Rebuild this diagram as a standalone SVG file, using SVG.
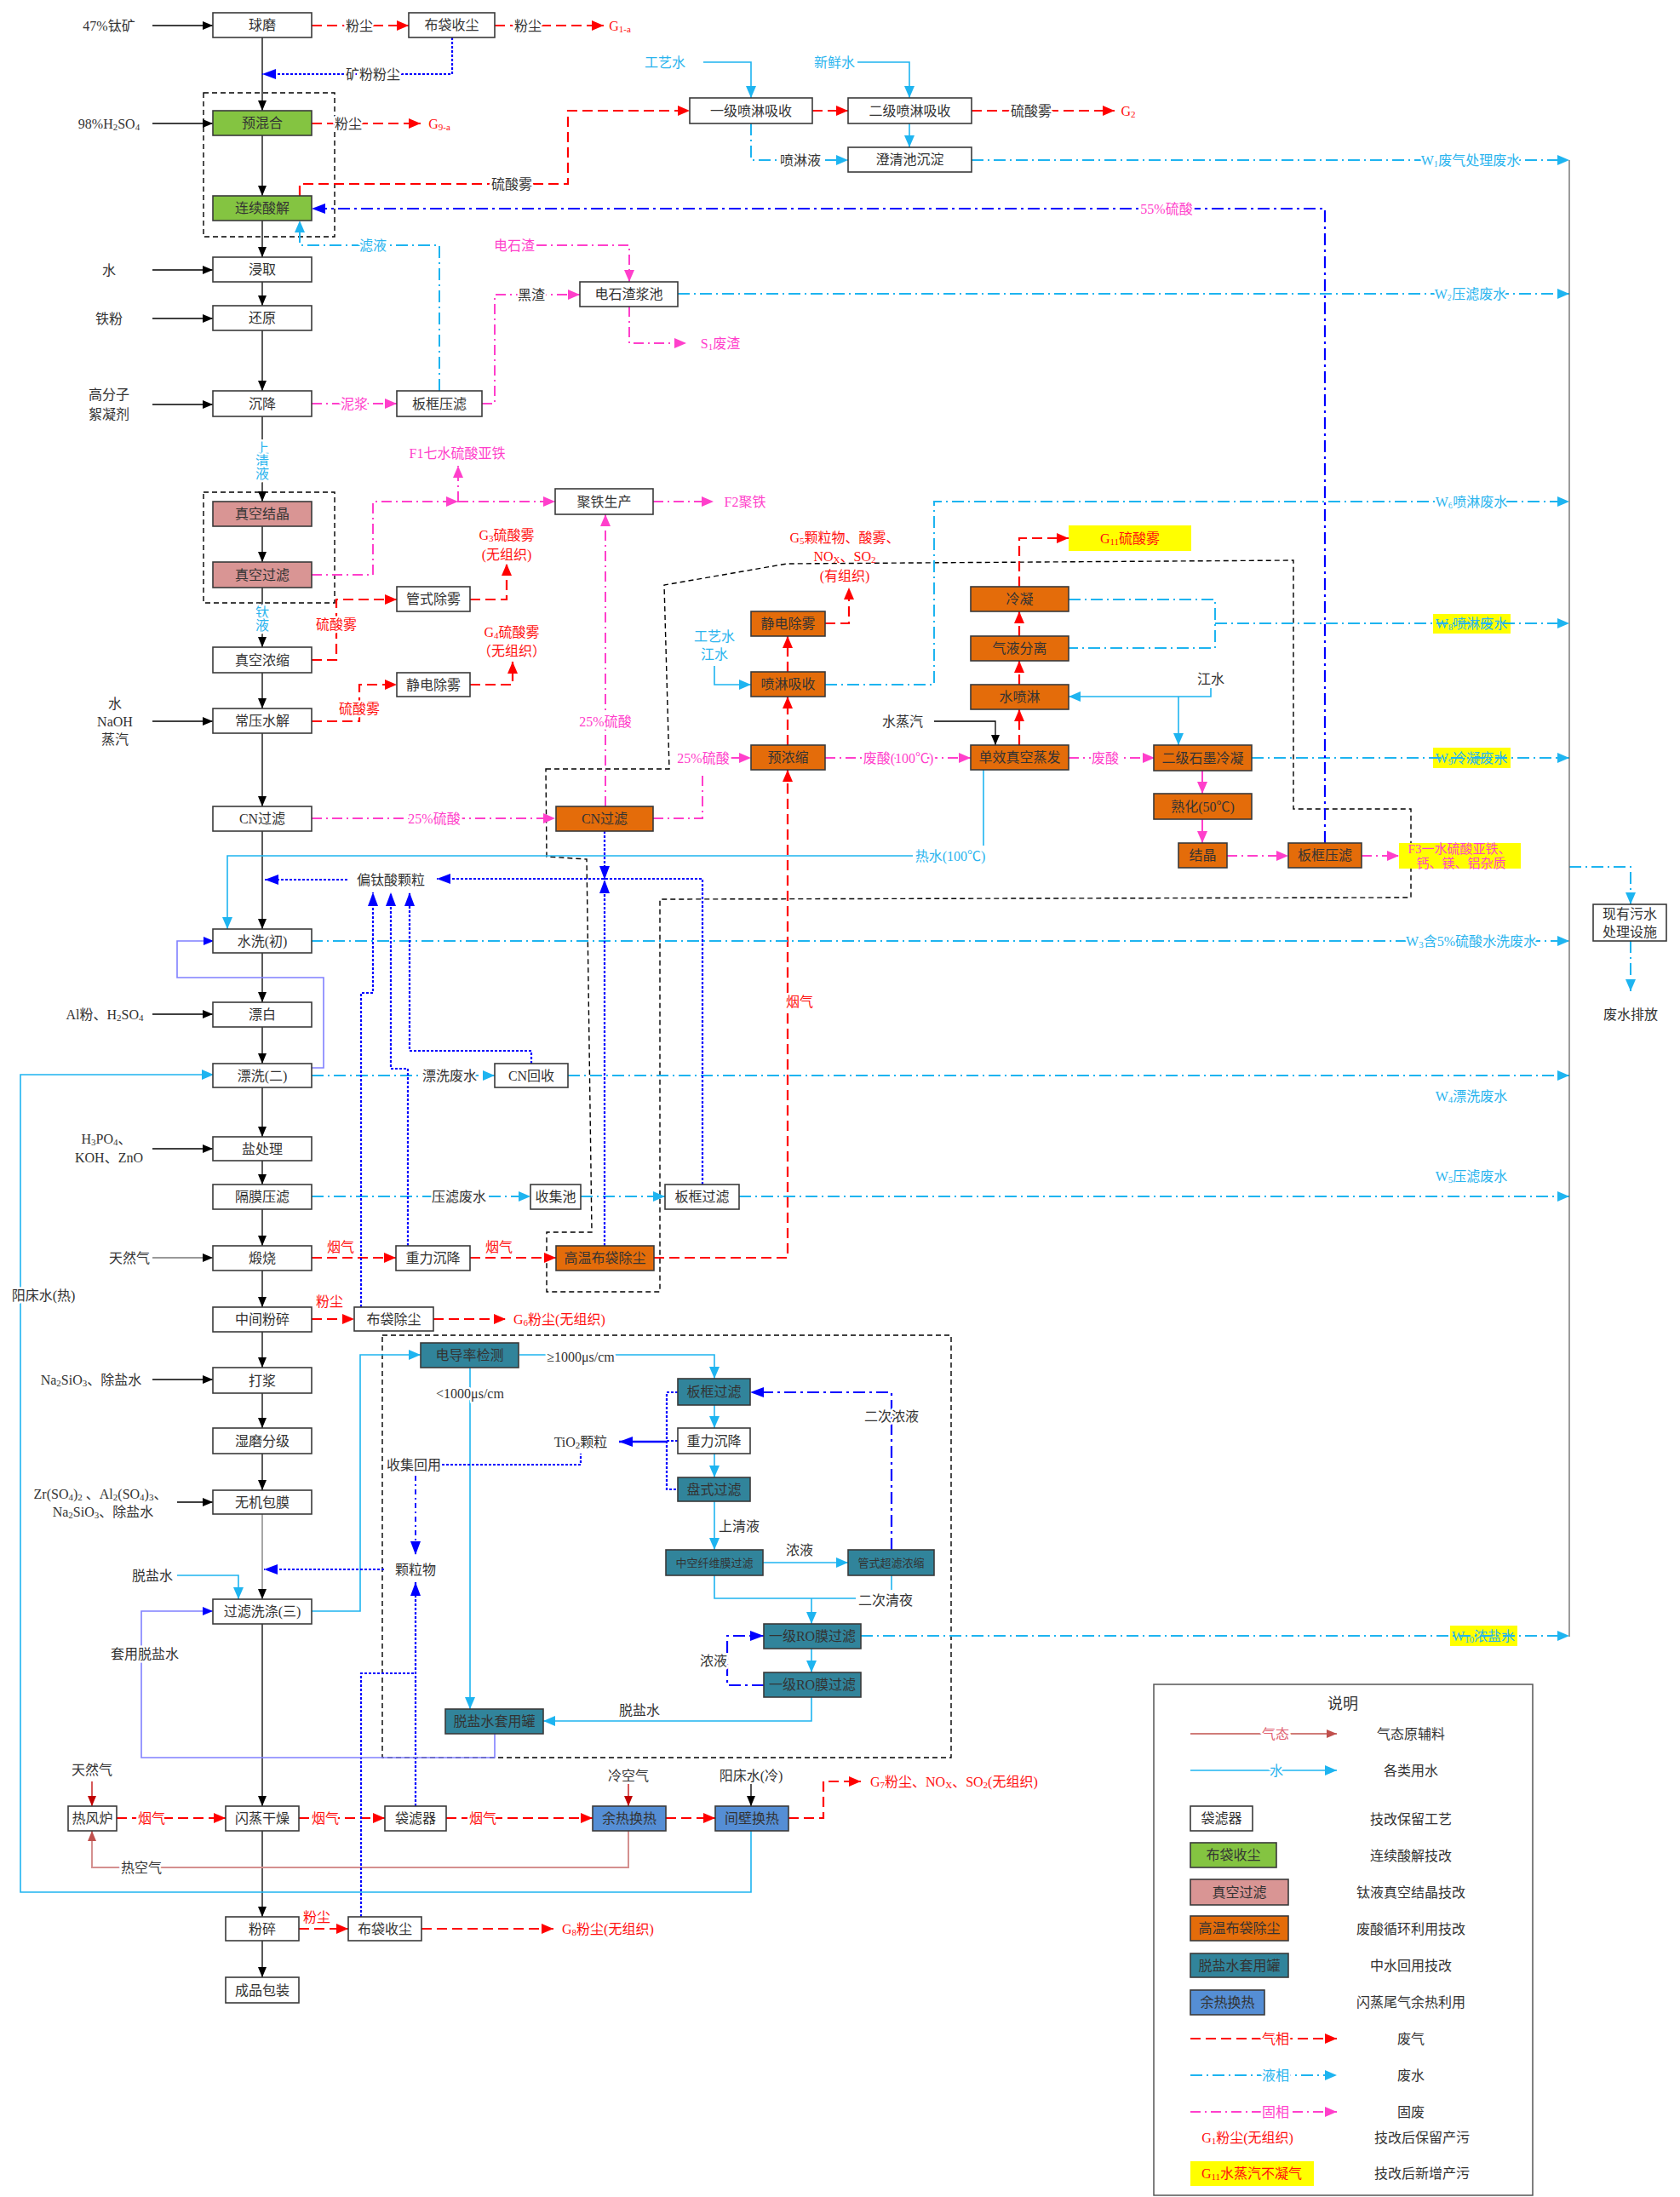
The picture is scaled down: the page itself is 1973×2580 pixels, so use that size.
<svg xmlns="http://www.w3.org/2000/svg" width="1973" height="2580" viewBox="0 0 1973 2580">
<style>
text{font-family:"Liberation Serif","Noto Sans CJK SC",serif;font-size:16px;text-anchor:middle;dominant-baseline:central;fill:#333}
.h{paint-order:stroke;stroke:#fff;stroke-width:5px;stroke-linejoin:round}
.s{font-size:11px}
.tr{fill:#FF1010}.tc{fill:#2AB4EE}.tp{fill:#FF3FCB}
.sm{font-size:13px}
.bx{stroke:#3a3a3a;stroke-width:1.6}
.w{fill:#fff}.g{fill:#84C441}.p{fill:#D99594}.o{fill:#E46C0A}.t{fill:#31849B}.b{fill:#558ED5}.y{fill:#FFFF00}
.k{fill:none;stroke:#000;stroke-width:1.3}
.kg{fill:none;stroke:#777;stroke-width:1.3}
.red{fill:none;stroke:#FF0000;stroke-width:2.2;stroke-dasharray:12 6}
.rs{fill:none;stroke:#C00000;stroke-width:1.3}
.ha{fill:none;stroke:#D4908F;stroke-width:2}
.cy{fill:none;stroke:#1EB4F0;stroke-width:2;stroke-dasharray:14 5 2 5}
.cs{fill:none;stroke:#1EB4F0;stroke-width:1.6}
.pk{fill:none;stroke:#FF3FCB;stroke-width:2;stroke-dasharray:12 5 2 5}
.ps{fill:none;stroke:#FF3FCB;stroke-width:2}
.bl{fill:none;stroke:#0000FF;stroke-width:2.2;stroke-dasharray:3 2}
.bd{fill:none;stroke:#0000FF;stroke-width:2.2;stroke-dasharray:14 5 3 5}
.bs{fill:none;stroke:#0000FF;stroke-width:2.4}
.pu{fill:none;stroke:#8080FF;stroke-width:1.6}
.dsh{fill:none;stroke:#000;stroke-width:1.4;stroke-dasharray:6 4}
</style>
<defs>
<marker id="ak" viewBox="0 0 12 10" refX="12" refY="5" markerWidth="12" markerHeight="10" orient="auto" markerUnits="userSpaceOnUse"><path d="M0,0 L12,5 L0,10z" fill="#000"/></marker>
<marker id="ar" viewBox="0 0 14 12" refX="14" refY="6" markerWidth="14" markerHeight="12" orient="auto" markerUnits="userSpaceOnUse"><path d="M0,0 L14,6 L0,12z" fill="#FF0000"/></marker>
<marker id="ard" viewBox="0 0 12 10" refX="12" refY="5" markerWidth="12" markerHeight="10" orient="auto" markerUnits="userSpaceOnUse"><path d="M0,0 L12,5 L0,10z" fill="#C00000"/></marker>
<marker id="aha" viewBox="0 0 12 10" refX="12" refY="5" markerWidth="12" markerHeight="10" orient="auto" markerUnits="userSpaceOnUse"><path d="M0,0 L12,5 L0,10z" fill="#C0504D"/></marker>
<marker id="ac" viewBox="0 0 14 12" refX="14" refY="6" markerWidth="14" markerHeight="12" orient="auto" markerUnits="userSpaceOnUse"><path d="M0,0 L14,6 L0,12z" fill="#1EB4F0"/></marker>
<marker id="ap" viewBox="0 0 14 12" refX="14" refY="6" markerWidth="14" markerHeight="12" orient="auto" markerUnits="userSpaceOnUse"><path d="M0,0 L14,6 L0,12z" fill="#FF3FCB"/></marker>
<marker id="ab" viewBox="0 0 16 12" refX="16" refY="6" markerWidth="16" markerHeight="12" orient="auto" markerUnits="userSpaceOnUse"><path d="M0,0 L16,6 L0,12z" fill="#0000FF"/></marker>
<marker id="apu" viewBox="0 0 12 10" refX="12" refY="5" markerWidth="12" markerHeight="10" orient="auto" markerUnits="userSpaceOnUse"><path d="M0,0 L12,5 L0,10z" fill="#0000FF"/></marker>
</defs>
<rect width="1973" height="2580" fill="#fff"/>

<g id="groups">
<rect class="dsh" x="239" y="109" width="154" height="169"/>
<rect class="dsh" x="239" y="578" width="154" height="130"/>
<polygon class="dsh" points="641,903 786,903 780,687 924,662 1519,658 1519,950 1657,950 1657,1054 775,1056 775,1517 642,1517 642,1447 695,1447 689,1009 642,1006"/>
<rect class="dsh" x="449" y="1568" width="668" height="496"/>
</g>

<g id="highlights">
<rect class="y" x="1255" y="617" width="144" height="30"/>
<rect class="y" x="1683" y="721" width="91" height="23"/>
<rect class="y" x="1683" y="878" width="91" height="24"/>
<rect class="y" x="1703" y="1909" width="79" height="24"/>
<rect class="y" x="1643" y="990" width="143" height="30"/>
</g>

<g id="connectors">
<path class="k" marker-end="url(#ak)" d="M308,44V130"/><path class="k" marker-end="url(#ak)" d="M308,159V230"/><path class="k" marker-end="url(#ak)" d="M308,259V302"/><path class="k" marker-end="url(#ak)" d="M308,331V359"/><path class="k" marker-end="url(#ak)" d="M308,388V459"/><path class="k" marker-end="url(#ak)" d="M308,489V589"/><path class="k" marker-end="url(#ak)" d="M308,618V660"/><path class="k" marker-end="url(#ak)" d="M308,690V760"/><path class="k" marker-end="url(#ak)" d="M308,790V832"/><path class="k" marker-end="url(#ak)" d="M308,861V947"/><path class="k" marker-end="url(#ak)" d="M308,976V1091"/><path class="k" marker-end="url(#ak)" d="M308,1119V1177"/><path class="k" marker-end="url(#ak)" d="M308,1206V1249"/><path class="k" marker-end="url(#ak)" d="M308,1277V1335"/><path class="k" marker-end="url(#ak)" d="M308,1363V1391"/><path class="k" marker-end="url(#ak)" d="M308,1420V1463"/><path class="k" marker-end="url(#ak)" d="M308,1492V1535"/><path class="k" marker-end="url(#ak)" d="M308,1564V1606"/><path class="k" marker-end="url(#ak)" d="M308,1636V1677"/><path class="k" marker-end="url(#ak)" d="M308,1707V1750"/>
<path class="kg" marker-end="url(#ak)" d="M308,1778V1878"/>
<path class="k" marker-end="url(#ak)" d="M308,1907V2121"/>
<path class="k" marker-end="url(#ak)" d="M308,2150V2251"/>
<path class="k" marker-end="url(#ak)" d="M308,2279V2322"/>
<path class="k" marker-end="url(#ak)" d="M179,30H250"/>
<path class="k" marker-end="url(#ak)" d="M179,145H250"/>
<path class="k" marker-end="url(#ak)" d="M179,317H250"/>
<path class="k" marker-end="url(#ak)" d="M179,374H250"/>
<path class="k" marker-end="url(#ak)" d="M179,475H250"/>
<path class="k" marker-end="url(#ak)" d="M179,847H250"/>
<path class="k" marker-end="url(#ak)" d="M179,1191H250"/>
<path class="k" marker-end="url(#ak)" d="M179,1349H250"/>
<path class="kg" marker-end="url(#ak)" d="M179,1477H250"/>
<path class="k" marker-end="url(#ak)" d="M179,1620H250"/>
<path class="k" marker-end="url(#ak)" d="M208,1764H250"/>
<path class="k" marker-end="url(#ak)" d="M1097,847H1169V875"/>
<path class="k" marker-end="url(#ak)" d="M882,2095V2121"/>
<path class="red" marker-end="url(#ar)" d="M366,30H480"/>
<path class="red" marker-end="url(#ar)" d="M581,30H709"/>
<path class="red" marker-end="url(#ar)" d="M366,145H494"/>
<path class="red" marker-end="url(#ar)" d="M352,230V216H667V130H810"/>
<path class="red" marker-end="url(#ar)" d="M954,130H996"/>
<path class="red" marker-end="url(#ar)" d="M1141,130H1309"/>
<path class="red" marker-end="url(#ar)" d="M366,775H395V704H466"/>
<path class="red" marker-end="url(#ar)" d="M552,704H595V662"/>
<path class="red" marker-end="url(#ar)" d="M366,847H422V804H466"/>
<path class="red" marker-end="url(#ar)" d="M552,804H602V777"/>
<path class="red" marker-end="url(#ar)" d="M925,875V818"/>
<path class="red" marker-end="url(#ar)" d="M925,789V747"/>
<path class="red" marker-end="url(#ar)" d="M969,732H997V690"/>
<path class="red" marker-end="url(#ar)" d="M1197,875V833"/>
<path class="red" marker-end="url(#ar)" d="M1197,804V776"/>
<path class="red" marker-end="url(#ar)" d="M1197,747V718"/>
<path class="red" marker-end="url(#ar)" d="M1197,689V632H1255"/>
<path class="red" marker-end="url(#ar)" d="M768,1477H925V904"/>
<path class="red" marker-end="url(#ar)" d="M366,1477H465"/>
<path class="red" marker-end="url(#ar)" d="M552,1477H653"/>
<path class="red" marker-end="url(#ar)" d="M366,1549H416"/>
<path class="red" marker-end="url(#ar)" d="M509,1549H594"/>
<path class="red" marker-end="url(#ar)" d="M137,2135H265"/>
<path class="red" marker-end="url(#ar)" d="M351,2135H452"/>
<path class="red" marker-end="url(#ar)" d="M524,2135H696"/>
<path class="red" marker-end="url(#ar)" d="M782,2135H840"/>
<path class="red" marker-end="url(#ar)" d="M926,2135H967V2092H1011"/>
<path class="red" marker-end="url(#ar)" d="M351,2265H409"/>
<path class="red" marker-end="url(#ar)" d="M495,2265H650"/>
<path class="rs" marker-end="url(#ard)" d="M108,2092V2121"/>
<path class="rs" marker-end="url(#ard)" d="M738,2095V2121"/>
<path class="ha" marker-end="url(#aha)" d="M738,2150V2193H108V2150"/>
<path class="cy" marker-end="url(#ac)" d="M882,145V188H996"/>
<path class="cy" marker-end="url(#ac)" d="M1141,188H1843"/>
<path class="cy" marker-end="url(#ac)" d="M796,345H1843"/>
<path class="cy" marker-end="url(#ac)" d="M516,459V288H352V259"/>
<path class="cy" marker-end="url(#ac)" d="M969,804H1097V589H1843"/>
<path class="cy" d="M1255,704H1427V761H1255"/>
<path class="cy" marker-end="url(#ac)" d="M1427,732H1843"/>
<path class="cy" marker-end="url(#ac)" d="M1470,890H1843"/>
<path class="cy" marker-end="url(#ac)" d="M365,1105H1843"/>
<path class="cy" marker-end="url(#ac)" d="M366,1263H581"/>
<path class="cy" marker-end="url(#ac)" d="M667,1263H1843"/>
<path class="cy" marker-end="url(#ac)" d="M366,1405H623"/>
<path class="cy" marker-end="url(#ac)" d="M682,1405H781"/>
<path class="cy" marker-end="url(#ac)" d="M868,1405H1843"/>
<path class="cy" marker-end="url(#ac)" d="M1011,1921H1843"/>
<path class="cy" marker-end="url(#ac)" d="M1843,1018H1915V1062"/>
<path class="cy" marker-end="url(#ac)" d="M1915,1105V1164"/>
<path fill="none" stroke="#666" stroke-width="1.3" d="M1843,188V1922"/>
<path class="cs" marker-end="url(#ac)" d="M826,73H882V115"/>
<path class="cs" marker-end="url(#ac)" d="M1007,73H1068V115"/>
<path class="cs" marker-end="url(#ac)" d="M1068,145V173"/>
<path class="cs" marker-end="url(#ac)" d="M839,782V804H882"/>
<path class="cs" marker-end="url(#ac)" d="M1422,808V818H1255"/>
<path class="cs" marker-end="url(#ac)" d="M1384,818V875"/>
<path class="cs" d="M1155,904V993"/>
<path class="cs" marker-end="url(#ac)" d="M1072,1005H267V1091"/>
<path class="cs" marker-end="url(#ac)" d="M882,2150V2222H24V1262H251"/>
<path class="cs" marker-end="url(#ac)" d="M208,1850H280V1878"/>
<path class="cs" marker-end="url(#ac)" d="M366,1892H423V1591H494"/>
<path class="cs" marker-end="url(#ac)" d="M610,1591H839V1619"/>
<path class="cs" marker-end="url(#ac)" d="M552,1606V2007"/>
<path class="cs" marker-end="url(#ac)" d="M839,1650V1677"/>
<path class="cs" marker-end="url(#ac)" d="M839,1707V1735"/>
<path class="cs" marker-end="url(#ac)" d="M839,1763V1820"/>
<path class="cs" marker-end="url(#ac)" d="M896,1835H996"/>
<path class="cs" d="M839,1850V1877H1005M1047,1850V1867"/>
<path class="cs" marker-end="url(#ac)" d="M953,1877V1907"/>
<path class="cs" marker-end="url(#ac)" d="M953,1936V1964"/>
<path class="cs" marker-end="url(#ac)" d="M953,1993V2021H638"/>
<path class="pk" marker-end="url(#ap)" d="M630,288H739V331"/>
<path class="pk" marker-end="url(#ap)" d="M566,474H581V346H681"/>
<path class="pk" marker-end="url(#ap)" d="M739,360V403H806"/>
<path class="pk" marker-end="url(#ap)" d="M366,474H466"/>
<path class="pk" marker-end="url(#ap)" d="M366,675H438V589H538"/>
<path class="pk" marker-end="url(#ap)" d="M538,589H652"/>
<path class="pk" marker-end="url(#ap)" d="M538,589V547"/>
<path class="pk" marker-end="url(#ap)" d="M767,589H838"/>
<path class="pk" marker-end="url(#ap)" d="M711,947V604"/>
<path class="pk" marker-end="url(#ap)" d="M366,961H652"/>
<path class="pk" d="M767,961H825V906"/>
<path class="pk" marker-end="url(#ap)" d="M858,890H882"/>
<path class="pk" marker-end="url(#ap)" d="M969,890H1140"/>
<path class="pk" marker-end="url(#ap)" d="M1255,890H1356"/>
<path class="pk" marker-end="url(#ap)" d="M1441,1005H1513"/>
<path class="pk" marker-end="url(#ap)" d="M1599,1005H1643"/>
<path class="ps" marker-end="url(#ap)" d="M1412,905V932"/>
<path class="ps" marker-end="url(#ap)" d="M1412,962V990"/>
<path class="bl" marker-end="url(#ab)" d="M531,44V87H308"/>
<path class="bl" marker-end="url(#ab)" d="M408,1033H311"/>
<path class="bl" marker-end="url(#ab)" d="M825,1391V1032H513"/>
<path class="bl" marker-end="url(#ab)" d="M710,976V1033"/>
<path class="bl" marker-end="url(#ab)" d="M710,1463V1033"/>
<path class="bl" marker-end="url(#ab)" d="M424,1535V1166H438V1048"/>
<path class="bl" marker-end="url(#ab)" d="M479,1463V1255H459V1048"/>
<path class="bl" marker-end="url(#ab)" d="M624,1249V1234H481V1048"/>
<path class="bl" marker-end="url(#ab)" d="M451,1843H310"/>
<path class="bl" d="M519,1720H682V1707"/>
<path class="bl" marker-end="url(#ab)" d="M488,2121V1858"/>
<path class="bl" d="M424,2251V1965H488"/>
<path class="bl" d="M796,1635H783V1749H796M783,1692H796"/>
<path class="bd" marker-end="url(#ab)" d="M1556,990V245H366"/>
<path class="bd" marker-end="url(#ab)" d="M1047,1820V1635H881"/>
<path class="bd" marker-end="url(#ab)" d="M897,1979H854V1921H897"/>
<path class="bd" style="stroke-width:1.8;stroke-dasharray:6 4 2 4" marker-end="url(#ab)" d="M488,1733V1826"/>
<path class="bs" marker-end="url(#ab)" d="M783,1693H727"/>
<path class="pu" marker-end="url(#apu)" d="M366,1254H380V1148H208V1105H251"/>
<path class="pu" marker-end="url(#apu)" d="M581,2036V2064H166V1892H250"/>

<text class="h" x="422" y="30">粉尘</text>
<text class="h" x="620" y="30">粉尘</text>
<text class="tr" x="728" y="30">G<tspan class="s" dy="4">1-a</tspan></text>
<text class="h" x="438" y="87">矿粉粉尘</text>
<text class="h" x="409" y="145">粉尘</text>
<text class="tr" x="516" y="145">G<tspan class="s" dy="4">9-a</tspan></text>
<text class="h" x="601" y="216">硫酸雾</text>
<text class="h tc" x="438" y="288">滤液</text>
<text class="tp" x="604" y="288">电石渣</text>
<text class="h" x="624" y="346">黑渣</text>
<text class="tp" x="846" y="403">S<tspan class="s" dy="4">1</tspan><tspan dy="-4">废渣</tspan></text>
<text class="h tp" x="416" y="474">泥浆</text>
<text class="tc" x="781" y="73">工艺水</text>
<text class="tc" x="980" y="73">新鲜水</text>
<text class="h" x="1211" y="130">硫酸雾</text>
<text class="tr" x="1325" y="130">G<tspan class="s" dy="4">2</tspan></text>
<text class="h" x="940" y="188">喷淋液</text>
<text class="h tc" x="1727" y="188">W<tspan class="s" dy="4">1</tspan><tspan dy="-4">废气处理废水</tspan></text>
<text class="h tp" x="1370" y="245">55%硫酸</text>
<text class="h tc" x="1727" y="345">W<tspan class="s" dy="4">2</tspan><tspan dy="-4">压滤废水</tspan></text>
<text class="h tc" x="308" y="526">上</text>
<text class="h tc" x="308" y="541">清</text>
<text class="h tc" x="308" y="556">液</text>
<text class="h tc" x="308" y="719">钛</text>
<text class="h tc" x="308" y="734">液</text>
<text class="tp" x="537" y="532">F1七水硫酸亚铁</text>
<text class="tp" x="875" y="589">F2聚铁</text>
<text class="tr" x="595" y="628">G<tspan class="s" dy="4">3</tspan><tspan dy="-4">硫酸雾</tspan></text>
<text class="tr" x="595" y="651">(无组织)</text>
<text class="h tr" x="395" y="733">硫酸雾</text>
<text class="tr" x="601" y="742">G<tspan class="s" dy="4">4</tspan><tspan dy="-4">硫酸雾</tspan></text>
<text class="tr" x="601" y="764">（无组织）</text>
<text class="h tr" x="422" y="832">硫酸雾</text>
<text class="h tp" x="711" y="847">25%硫酸</text>
<text class="h tp" x="510" y="961">25%硫酸</text>
<text class="h tp" x="826" y="890">25%硫酸</text>
<text class="tr" x="992" y="631">G<tspan class="s" dy="4">5</tspan><tspan dy="-4">颗粒物、酸雾、</tspan></text>
<text class="tr" x="992" y="653">NO<tspan class="s" dy="4">X</tspan><tspan dy="-4">、SO</tspan><tspan class="s" dy="4">2</tspan></text>
<text class="tr" x="992" y="676">(有组织)</text>
<text class="tc" x="839" y="747">工艺水</text>
<text class="tc" x="839" y="768">江水</text>
<text class="h tp" x="1055" y="890">废酸(100℃)</text>
<text x="1060" y="847">水蒸汽</text>
<text class="tr" x="1327" y="632">G<tspan class="s" dy="4">11</tspan><tspan dy="-4">硫酸雾</tspan></text>
<text class="h tc" x="1728" y="589">W<tspan class="s" dy="4">6</tspan><tspan dy="-4">喷淋废水</tspan></text>
<text class="tc" x="1728" y="732">W<tspan class="s" dy="4">8</tspan><tspan dy="-4">喷淋废水</tspan></text>
<text x="1422" y="797">江水</text>
<text class="h tp" x="1298" y="890">废酸</text>
<text class="tc" x="1728" y="890">W<tspan class="s" dy="4">9</tspan><tspan dy="-4">冷凝废水</tspan></text>
<text class="tp" x="1714" y="997" style="font-size:15px">F3一水硫酸亚铁、</text>
<text class="tp" x="1716" y="1014" style="font-size:15px">钙、镁、铝杂质</text>
<text class="tc" x="1116" y="1005">热水(100℃)</text>
<text class="h tc" x="1728" y="1105">W<tspan class="s" dy="4">3</tspan><tspan dy="-4">含5%硫酸水洗废水</tspan></text>
<text x="1915" y="1191">废水排放</text>
<text class="h" x="459" y="1033">偏钛酸颗粒</text>
<text class="h" x="528" y="1263">漂洗废水</text>
<text class="tc" x="1728" y="1287">W<tspan class="s" dy="4">4</tspan><tspan dy="-4">漂洗废水</tspan></text>
<text class="h" x="539" y="1405">压滤废水</text>
<text class="tc" x="1728" y="1381">W<tspan class="s" dy="4">5</tspan><tspan dy="-4">压滤废水</tspan></text>
<text class="h tr" x="939" y="1176">烟气</text>
<text class="tr" x="400" y="1464">烟气</text>
<text class="tr" x="586" y="1464">烟气</text>
<text class="tr" x="387" y="1528">粉尘</text>
<text class="tr" x="603" y="1549" style="text-anchor:start">G<tspan class="s" dy="4">6</tspan><tspan dy="-4">粉尘(无组织)</tspan></text>
<text class="h" x="51" y="1521">阳床水(热)</text>
<text class="h" x="682" y="1593">≥1000μs/cm</text>
<text class="h" x="552" y="1636">&lt;1000μs/cm</text>
<text class="h" x="1047" y="1663">二次浓液</text>
<text x="682" y="1693">TiO<tspan class="s" dy="4">2</tspan><tspan dy="-4">颗粒</tspan></text>
<text class="h" x="486" y="1720">收集回用</text>
<text class="h" x="488" y="1843">颗粒物</text>
<text class="h" x="868" y="1792">上清液</text>
<text x="939" y="1820">浓液</text>
<text class="h" x="1040" y="1879">二次清夜</text>
<text class="h" x="838" y="1950">浓液</text>
<text x="751" y="2008">脱盐水</text>
<text class="tc" x="1742" y="1921">W<tspan class="s" dy="4">10</tspan><tspan dy="-4">浓盐水</tspan></text>
<text class="h" x="179" y="1850">脱盐水</text>
<text class="h" x="170" y="1942">套用脱盐水</text>
<text x="108" y="2078">天然气</text>
<text class="h tr" x="178" y="2135">烟气</text>
<text class="h tr" x="382" y="2135">烟气</text>
<text class="h tr" x="567" y="2135">烟气</text>
<text x="738" y="2085">冷空气</text>
<text x="882" y="2085">阳床水(冷)</text>
<text class="tr" x="1022" y="2092" style="text-anchor:start">G<tspan class="s" dy="4">7</tspan><tspan dy="-4">粉尘、NO</tspan><tspan class="s" dy="4">X</tspan><tspan dy="-4">、SO</tspan><tspan class="s" dy="4">2</tspan><tspan dy="-4">(无组织)</tspan></text>
<text class="h" x="166" y="2193">热空气</text>
<text class="tr" x="372" y="2251">粉尘</text>
<text class="tr" x="660" y="2265" style="text-anchor:start">G<tspan class="s" dy="4">8</tspan><tspan dy="-4">粉尘(无组织)</tspan></text>
<text x="128" y="30">47%钛矿</text>
<text x="128" y="145">98%H<tspan class="s" dy="4">2</tspan><tspan dy="-4">SO</tspan><tspan class="s" dy="4">4</tspan></text>
<text x="128" y="317">水</text>
<text x="128" y="374">铁粉</text>
<text x="128" y="463">高分子</text>
<text x="128" y="486">絮凝剂</text>
<text x="135" y="826">水</text>
<text x="135" y="847">NaOH</text>
<text x="135" y="868">蒸汽</text>
<text x="123" y="1191">Al粉、H<tspan class="s" dy="4">2</tspan><tspan dy="-4">SO</tspan><tspan class="s" dy="4">4</tspan></text>
<text x="125" y="1337">H<tspan class="s" dy="4">3</tspan><tspan dy="-4">PO</tspan><tspan class="s" dy="4">4</tspan><tspan dy="-4">、</tspan></text>
<text x="128" y="1359">KOH、ZnO</text>
<text x="152" y="1477">天然气</text>
<text x="107" y="1620">Na<tspan class="s" dy="4">2</tspan><tspan dy="-4">SiO</tspan><tspan class="s" dy="4">3</tspan><tspan dy="-4">、除盐水</tspan></text>
<text x="118" y="1754">Zr(SO<tspan class="s" dy="4">4</tspan><tspan dy="-4">)</tspan><tspan class="s" dy="4">2</tspan><tspan dy="-4"> 、Al</tspan><tspan class="s" dy="4">2</tspan><tspan dy="-4">(SO</tspan><tspan class="s" dy="4">4</tspan><tspan dy="-4">)</tspan><tspan class="s" dy="4">3</tspan><tspan dy="-4">、</tspan></text>
<text x="121" y="1775">Na<tspan class="s" dy="4">2</tspan><tspan dy="-4">SiO</tspan><tspan class="s" dy="4">3</tspan><tspan dy="-4">、除盐水</tspan></text>
</g>

<g id="n_qiumo"><rect class="bx w" x="250" y="15" width="116" height="29"/><text x="308" y="29.5">球磨</text></g>
<g id="n_budai1"><rect class="bx w" x="480" y="15" width="101" height="29"/><text x="530.5" y="29.5">布袋收尘</text></g>
<g id="n_yuhunhe"><rect class="bx g" x="250" y="130" width="116" height="29"/><text x="308" y="144.5">预混合</text></g>
<g id="n_suanjie"><rect class="bx g" x="250" y="230" width="116" height="29"/><text x="308" y="244.5">连续酸解</text></g>
<g id="n_jinqu"><rect class="bx w" x="250" y="302" width="116" height="29"/><text x="308" y="316.5">浸取</text></g>
<g id="n_huanyuan"><rect class="bx w" x="250" y="359" width="116" height="29"/><text x="308" y="373.5">还原</text></g>
<g id="n_chenjiang"><rect class="bx w" x="250" y="459" width="116" height="30"/><text x="308" y="474">沉降</text></g>
<g id="n_bkyl1"><rect class="bx w" x="466" y="459" width="100" height="30"/><text x="516" y="474">板框压滤</text></g>
<g id="n_dszjc"><rect class="bx w" x="681" y="331" width="115" height="29"/><text x="738.5" y="345.5">电石渣浆池</text></g>
<g id="n_pl1"><rect class="bx w" x="810" y="115" width="144" height="30"/><text x="882" y="130">一级喷淋吸收</text></g>
<g id="n_pl2"><rect class="bx w" x="996" y="115" width="145" height="30"/><text x="1068.5" y="130">二级喷淋吸收</text></g>
<g id="n_cqc"><rect class="bx w" x="996" y="173" width="145" height="29"/><text x="1068.5" y="187.5">澄清池沉淀</text></g>
<g id="n_zkjj"><rect class="bx p" x="250" y="589" width="116" height="29"/><text x="308" y="603.5">真空结晶</text></g>
<g id="n_zkgl"><rect class="bx p" x="250" y="660" width="116" height="30"/><text x="308" y="675">真空过滤</text></g>
<g id="n_jtsc"><rect class="bx w" x="652" y="574" width="115" height="30"/><text x="709.5" y="589">聚铁生产</text></g>
<g id="n_gscw"><rect class="bx w" x="466" y="689" width="86" height="29"/><text x="509" y="703.5">管式除雾</text></g>
<g id="n_zkns"><rect class="bx w" x="250" y="760" width="116" height="30"/><text x="308" y="775">真空浓缩</text></g>
<g id="n_jdcw1"><rect class="bx w" x="466" y="790" width="86" height="28"/><text x="509" y="804">静电除雾</text></g>
<g id="n_cysj"><rect class="bx w" x="250" y="832" width="116" height="29"/><text x="308" y="846.5">常压水解</text></g>
<g id="n_cnl"><rect class="bx w" x="250" y="947" width="116" height="29"/><text x="308" y="961.5">CN过滤</text></g>
<g id="n_cno"><rect class="bx o" x="653" y="947" width="114" height="29"/><text x="710" y="961.5">CN过滤</text></g>
<g id="n_ync"><rect class="bx o" x="882" y="875" width="87" height="29"/><text x="925.5" y="889.5">预浓缩</text></g>
<g id="n_plxs"><rect class="bx o" x="882" y="789" width="87" height="29"/><text x="925.5" y="803.5">喷淋吸收</text></g>
<g id="n_jdcw2"><rect class="bx o" x="882" y="718" width="87" height="29"/><text x="925.5" y="732.5">静电除雾</text></g>
<g id="n_dxzk"><rect class="bx o" x="1140" y="875" width="115" height="29"/><text x="1197.5" y="889.5">单效真空蒸发</text></g>
<g id="n_spl"><rect class="bx o" x="1140" y="804" width="115" height="29"/><text x="1197.5" y="818.5">水喷淋</text></g>
<g id="n_qyfl"><rect class="bx o" x="1140" y="747" width="115" height="29"/><text x="1197.5" y="761.5">气液分离</text></g>
<g id="n_ln"><rect class="bx o" x="1140" y="689" width="115" height="29"/><text x="1197.5" y="703.5">冷凝</text></g>
<g id="n_ejsm"><rect class="bx o" x="1355" y="875" width="115" height="30"/><text x="1412.5" y="890">二级石墨冷凝</text></g>
<g id="n_sh"><rect class="bx o" x="1355" y="932" width="115" height="30"/><text x="1412.5" y="947">熟化(50℃)</text></g>
<g id="n_jj"><rect class="bx o" x="1384" y="990" width="57" height="29"/><text x="1412.5" y="1004.5">结晶</text></g>
<g id="n_bkyl2"><rect class="bx o" x="1513" y="990" width="86" height="29"/><text x="1556" y="1004.5">板框压滤</text></g>
<g id="n_wsc"><rect class="bx w" x="1871" y="1062" width="86" height="43"/><text x="1914" y="1073">现有污水</text><text x="1914" y="1094">处理设施</text></g>
<g id="n_sxc"><rect class="bx w" x="250" y="1091" width="116" height="28"/><text x="308" y="1105">水洗(初)</text></g>
<g id="n_pb"><rect class="bx w" x="250" y="1177" width="116" height="29"/><text x="308" y="1191.5">漂白</text></g>
<g id="n_px2"><rect class="bx w" x="250" y="1249" width="116" height="28"/><text x="308" y="1263">漂洗(二)</text></g>
<g id="n_cnhs"><rect class="bx w" x="581" y="1249" width="86" height="28"/><text x="624" y="1263">CN回收</text></g>
<g id="n_yan"><rect class="bx w" x="250" y="1335" width="116" height="28"/><text x="308" y="1349">盐处理</text></g>
<g id="n_gm"><rect class="bx w" x="250" y="1391" width="116" height="29"/><text x="308" y="1405.5">隔膜压滤</text></g>
<g id="n_sjc"><rect class="bx w" x="623" y="1391" width="59" height="29"/><text x="652.5" y="1405.5">收集池</text></g>
<g id="n_bkgl1"><rect class="bx w" x="781" y="1391" width="87" height="29"/><text x="824.5" y="1405.5">板框过滤</text></g>
<g id="n_ds"><rect class="bx w" x="250" y="1463" width="116" height="29"/><text x="308" y="1477.5">煅烧</text></g>
<g id="n_zlcj1"><rect class="bx w" x="465" y="1463" width="87" height="29"/><text x="508.5" y="1477.5">重力沉降</text></g>
<g id="n_gwbd"><rect class="bx o" x="653" y="1463" width="115" height="29"/><text x="710.5" y="1477.5">高温布袋除尘</text></g>
<g id="n_zjfs"><rect class="bx w" x="250" y="1535" width="116" height="29"/><text x="308" y="1549.5">中间粉碎</text></g>
<g id="n_bdcc"><rect class="bx w" x="416" y="1535" width="93" height="28"/><text x="462.5" y="1549">布袋除尘</text></g>
<g id="n_dj"><rect class="bx w" x="250" y="1606" width="116" height="30"/><text x="308" y="1621">打浆</text></g>
<g id="n_sm"><rect class="bx w" x="250" y="1677" width="116" height="30"/><text x="308" y="1692">湿磨分级</text></g>
<g id="n_wj"><rect class="bx w" x="250" y="1750" width="116" height="28"/><text x="308" y="1764">无机包膜</text></g>
<g id="n_glxd"><rect class="bx w" x="250" y="1878" width="116" height="29"/><text x="308" y="1892.5">过滤洗涤(三)</text></g>
<g id="n_ddl"><rect class="bx t" x="494" y="1577" width="115" height="29"/><text x="551.5" y="1591.5">电导率检测</text></g>
<g id="n_bkgl2"><rect class="bx t" x="796" y="1619" width="85" height="31"/><text x="838.5" y="1634.5">板框过滤</text></g>
<g id="n_zlcj2"><rect class="bx w" x="796" y="1677" width="85" height="30"/><text x="838.5" y="1692">重力沉降</text></g>
<g id="n_psgl"><rect class="bx t" x="796" y="1735" width="85" height="28"/><text x="838.5" y="1749">盘式过滤</text></g>
<g id="n_zkxw"><rect class="bx t" x="782" y="1820" width="114" height="30"/><text class="sm" x="839" y="1835">中空纤维膜过滤</text></g>
<g id="n_gscl"><rect class="bx t" x="996" y="1820" width="101" height="30"/><text class="sm" x="1046.5" y="1835">管式超滤浓缩</text></g>
<g id="n_ro1"><rect class="bx t" x="897" y="1907" width="114" height="29"/><text x="954" y="1921.5">一级RO膜过滤</text></g>
<g id="n_ro2"><rect class="bx t" x="897" y="1964" width="114" height="29"/><text x="954" y="1978.5">一级RO膜过滤</text></g>
<g id="n_tysy"><rect class="bx t" x="523" y="2007" width="115" height="29"/><text x="580.5" y="2021.5">脱盐水套用罐</text></g>
<g id="n_rfl"><rect class="bx w" x="80" y="2121" width="57" height="29"/><text x="108.5" y="2135.5">热风炉</text></g>
<g id="n_szgz"><rect class="bx w" x="265" y="2121" width="86" height="29"/><text x="308" y="2135.5">闪蒸干燥</text></g>
<g id="n_dlq"><rect class="bx w" x="452" y="2121" width="72" height="29"/><text x="488" y="2135.5">袋滤器</text></g>
<g id="n_yrhr"><rect class="bx b" x="696" y="2121" width="86" height="29"/><text x="739" y="2135.5">余热换热</text></g>
<g id="n_jbhr"><rect class="bx b" x="840" y="2121" width="86" height="29"/><text x="883" y="2135.5">间壁换热</text></g>
<g id="n_fs"><rect class="bx w" x="265" y="2251" width="86" height="28"/><text x="308" y="2265">粉碎</text></g>
<g id="n_bdsc2"><rect class="bx w" x="409" y="2251" width="86" height="28"/><text x="452" y="2265">布袋收尘</text></g>
<g id="n_cp"><rect class="bx w" x="265" y="2322" width="86" height="30"/><text x="308" y="2337">成品包装</text></g>

<g id="legend">
<rect x="1355" y="1978" width="445" height="600" fill="#fff" stroke="#555" stroke-width="1.5"/>
<text x="1577" y="2001" style="font-size:18px">说明</text>
<path fill="none" stroke="#C0504D" stroke-width="1.6" marker-end="url(#aha)" d="M1398,2036H1570"/>
<text class="h" x="1498" y="2036" style="fill:#E06070">气态</text>
<text x="1657" y="2036">气态原辅料</text>
<path class="cs" marker-end="url(#ac)" d="M1398,2079H1570"/>
<text class="h tc" x="1499" y="2079">水</text>
<text x="1657" y="2079">各类用水</text>
<rect class="bx w" x="1398" y="2121" width="73" height="29"/><text x="1434.5" y="2135.5">袋滤器</text>
<text x="1657" y="2136">技改保留工艺</text>
<rect class="bx g" x="1398" y="2164" width="101" height="29"/><text x="1448.5" y="2178.5">布袋收尘</text>
<text x="1657" y="2179">连续酸解技改</text>
<rect class="bx p" x="1398" y="2207" width="115" height="30"/><text x="1455.5" y="2222">真空过滤</text>
<text x="1657" y="2222">钛液真空结晶技改</text>
<rect class="bx o" x="1398" y="2250" width="115" height="29"/><text x="1455.5" y="2264.5">高温布袋除尘</text>
<text x="1657" y="2265">废酸循环利用技改</text>
<rect class="bx t" x="1398" y="2294" width="115" height="28"/><text x="1455.5" y="2308">脱盐水套用罐</text>
<text x="1657" y="2308">中水回用技改</text>
<rect class="bx b" x="1398" y="2337" width="87" height="29"/><text x="1441.5" y="2351.5">余热换热</text>
<text x="1657" y="2351">闪蒸尾气余热利用</text>
<path class="red" marker-end="url(#ar)" d="M1398,2394H1570"/>
<text class="h tr" x="1498" y="2394">气相</text>
<text x="1657" y="2394">废气</text>
<path class="cy" marker-end="url(#ac)" d="M1398,2437H1570"/>
<text class="h tc" x="1498" y="2437">液相</text>
<text x="1657" y="2437">废水</text>
<path class="pk" marker-end="url(#ap)" d="M1398,2480H1570"/>
<text class="h tp" x="1498" y="2480">固相</text>
<text x="1657" y="2480">固废</text>
<text class="tr" x="1465" y="2510">G<tspan class="s" dy="4">1</tspan><tspan dy="-4">粉尘(无组织)</tspan></text>
<text x="1670" y="2510">技改后保留产污</text>
<rect class="y" x="1398" y="2538" width="145" height="29"/>
<text class="tr" x="1470" y="2552">G<tspan class="s" dy="4">11</tspan><tspan dy="-4">水蒸汽不凝气</tspan></text>
<text x="1670" y="2552">技改后新增产污</text>
</g>
</svg>
